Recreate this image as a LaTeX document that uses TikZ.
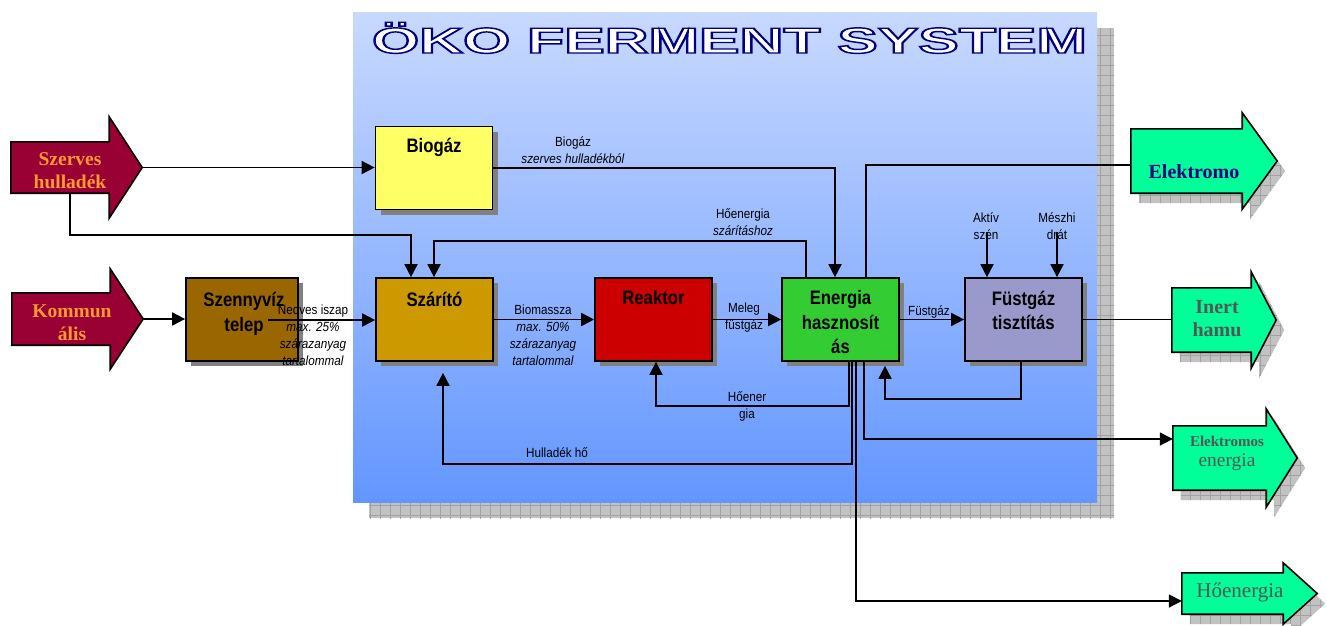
\documentclass[tikz,border=0pt]{standalone}
\usepackage{fontspec}
\setmainfont{Liberation Serif}
\newfontfamily\arialf{Liberation Sans}
\newfontfamily\arialn[FakeStretch=0.86]{Liberation Sans}
\newfontfamily\ariall[FakeStretch=0.88]{Liberation Sans}
\newfontfamily\titlefont[FakeBold=4]{Liberation Sans Bold}
\usetikzlibrary{arrows.meta,calc,shadows,patterns.meta}
\definecolor{panelTop}{HTML}{C8D9FF}
\definecolor{panelBot}{HTML}{6396FF}
\definecolor{shadowgray}{HTML}{C2C2C2}
\definecolor{gridgray}{HTML}{A2A2A2}
\definecolor{crimson}{HTML}{990033}
\definecolor{orangetxt}{HTML}{FF9933}
\definecolor{mint}{HTML}{00FF99}
\definecolor{navytxt}{HTML}{000080}
\definecolor{graytxt}{HTML}{555555}
\definecolor{bioY}{HTML}{FFFF66}
\definecolor{brownB}{HTML}{996600}
\definecolor{goldB}{HTML}{CC9900}
\definecolor{redB}{HTML}{CC0000}
\definecolor{greenB}{HTML}{33CC33}
\definecolor{lilacB}{HTML}{9999CC}
\newcommand{\barrowpath}[6]{% #1 node, #2 head extend, #3 head length, #4 dx, #5 dy, #6 options
  \path[#6] ([xshift=#4pt,yshift=#5pt]#1.north west) -- ([xshift=#4pt,yshift=#5pt]#1.north east)
    -- ([xshift=#4pt,yshift=#5pt+#2pt]#1.north east) -- ([xshift=#4pt+#3pt,yshift=#5pt]#1.east)
    -- ([xshift=#4pt,yshift=#5pt-#2pt]#1.south east) -- ([xshift=#4pt,yshift=#5pt]#1.south east)
    -- ([xshift=#4pt,yshift=#5pt]#1.south west) -- cycle;}
\tikzset{
  proc/.style={draw=black, line width=1.7pt, minimum width=117pt, minimum height=83pt, inner sep=0pt,
    drop shadow={shadow xshift=5pt, shadow yshift=-5pt, fill=gray, opacity=1}},
  boxtxt/.style={font=\arialn\bfseries\fontsize{19.5}{24.5}\selectfont, align=center, inner sep=0pt},
  lbl/.style={font=\ariall\fontsize{13.3}{17}\selectfont, align=center, inner sep=0pt},
  arr/.style={line width=1.8pt, -{Triangle[length=13pt,width=13pt]}},
  ln/.style={line width=1.8pt},
  abody/.style={inner sep=0pt, draw=none},
  leftA/.style={fill=crimson, draw=black, line width=1.6pt},
  rightA/.style={fill=mint, draw=black, line width=1.6pt},
  ashadow/.style={preaction={fill=shadowgray},
    pattern={Lines[angle=0,distance=10pt,line width=0.8pt]}, pattern color=gridgray,
    postaction={pattern={Lines[angle=90,distance=10pt,line width=0.8pt]}, pattern color=gridgray}},
  lefttxt/.style={font=\bfseries\fontsize{19.5}{23}\selectfont, text=orangetxt, align=center, inner sep=0pt},
  righttxt/.style={font=\bfseries\fontsize{20}{23}\selectfont, text=graytxt, align=center, inner sep=0pt}
}
\begin{document}
\begin{tikzpicture}[x=1pt,y=-1pt]
\useasboundingbox (0,0) rectangle (1327,625);
% panel and its shadow
\fill[ashadow] (369,28) rectangle (1114,518);
\shade[top color=panelTop, bottom color=panelBot] (353,12) rectangle (1097,502);
% title: white letters, dark blue outline (stroked text)
\node[anchor=base, inner sep=0pt] (title) at (729.5,53)
  {\resizebox{715pt}{\height}{\color{white}\special{pdf:code 0 0 0.5 RG}\titlefont\fontsize{36}{40}\selectfont ÖKO FERMENT SYSTEM}};

% process boxes
\node[proc, fill=bioY] (bio) at (434,168) {};
\node[proc, fill=brownB, minimum width=112pt] (szv) at (242,319.5) {};
\node[proc, fill=goldB] (szar) at (434.5,319.5) {};
\node[proc, fill=redB] (reak) at (653.5,319.5) {};
\node[proc, fill=greenB] (en) at (840.5,319.5) {};
\node[proc, fill=lilacB] (fg) at (1023.5,319.5) {};
\node[boxtxt] (bio-t) at (434,147) {Biogáz};
\node[boxtxt] (szv-t) at (244,314) {Szennyvíz\\telep};
\node[boxtxt] (szar-t) at (434.5,299) {Szárító};
\node[boxtxt] (reak-t) at (653.5,298) {Reaktor};
\node[boxtxt] (en-t) at (840.5,322.5) {Energia\\hasznosít\\ás};
\node[boxtxt] (fg-t) at (1023.5,310.5) {Füstgáz\\tisztítás};

% left block arrows
\node[abody, minimum width=98pt, minimum height=51pt] (szerves) at (60,167.5) {};
\barrowpath{szerves}{25}{33}{0}{0}{leftA}
\node[lefttxt] (szerves-t) at (70,170.5) {Szerves\\hulladék};
\coordinate (sztip) at ([xshift=33pt]szerves.east);
\node[abody, minimum width=98pt, minimum height=52pt] (kommun) at (61,319) {};
\barrowpath{kommun}{24}{33}{0}{0}{leftA}
\node[lefttxt] (kommun-t) at (72,323) {Kommun\\ális};
\coordinate (kotip) at ([xshift=33pt]kommun.east);

% right block arrows
\node[abody, minimum width=111pt, minimum height=64pt] (elektro) at (1186.5,161) {};
\barrowpath{elektro}{16}{35}{8}{-10}{ashadow}
\barrowpath{elektro}{16}{35}{0}{0}{rightA}
\node[righttxt, text=navytxt] (elektro-t) at (1194,172) {Elektromo};
\node[abody, minimum width=79pt, minimum height=64pt] (inert) at (1211.5,320) {};
\barrowpath{inert}{16}{25}{8}{-10}{ashadow}
\barrowpath{inert}{16}{25}{0}{0}{rightA}
\node[righttxt] (inert-t) at (1217,318.5) {Inert\\hamu};
\node[abody, minimum width=93pt, minimum height=64pt] (elen) at (1219.5,458) {};
\barrowpath{elen}{17}{31}{8}{-10}{ashadow}
\barrowpath{elen}{17}{31}{0}{0}{rightA}
\node[righttxt, font=\fontsize{19.5}{20}\selectfont] (elen-t) at (1227,453)
  {{\fontsize{15}{20}\selectfont\bfseries Elektromos}\\energia};
\node[abody, minimum width=101pt, minimum height=41pt] (hoen) at (1232.5,593.5) {};
\barrowpath{hoen}{10}{34}{8}{-10}{ashadow}
\barrowpath{hoen}{10}{34}{0}{0}{rightA}
\node[righttxt, font=\fontsize{21}{24}\selectfont] (hoen-t) at (1240,592) {Hőenergia};

% connectors
\draw[arr] (sztip) -- (bio.west |- sztip);
\coordinate (k1) at (70,235); \coordinate (k2) at (411,235);
\draw[arr] (szerves.south -| k1) -- (k1) -- (k2) -- (k2 |- szar.north);
\coordinate (k3) at (835,168);
\draw[arr] (bio.east) -- (k3) -- (k3 |- en.north);
\coordinate (k4) at (806,241); \coordinate (k5) at (434,241);
\draw[arr] (en.north -| k4) -- (k4) -- (k5) -- (k5 |- szar.north);
\coordinate (k6) at (866,165);
\draw[ln] (en.north -| k6) -- (k6) -- (k6 -| elektro.west);
\draw[arr] (kotip) -- (szv.west |- kotip);
\coordinate (k7) at (268,320);
\draw[arr] (k7) -- (k7 -| szar.west);
\draw[arr] (szar.east) -- (reak.west);
\draw[arr] (reak.east) -- (en.west);
\draw[arr] (en.east) -- (fg.west);
\draw[ln] (fg.east) -- (fg.east -| inert.west);
\coordinate (k8) at (987,232); \coordinate (k9) at (1057,232);
\draw[arr] (k8) -- (k8 |- fg.north);
\draw[arr] (k9) -- (k9 |- fg.north);
\coordinate (k10) at (1021,399); \coordinate (k11) at (885,399);
\draw[arr, shorten >=4pt] (fg.south -| k10) -- (k10) -- (k11) -- (k11 |- en.south);
\coordinate (k12) at (849,406); \coordinate (k13) at (656,406);
\draw[arr] (en.south -| k12) -- (k12) -- (k13) -- (k13 |- reak.south);
\coordinate (k14) at (852,464); \coordinate (k15) at (443,464);
\draw[arr, shorten >=11pt] (en.south -| k14) -- (k14) -- (k15) -- (k15 |- szar.south);
\coordinate (k16) at (856,601);
\draw[arr] (en.south -| k16) -- (k16) -- (k16 -| hoen.west);
\coordinate (k17) at (864,439);
\draw[arr] (en.south -| k17) -- (k17) -- (k17 -| elen.west);

% connector labels
\node[lbl] (l-bio) at (573,150) {Biogáz\\\textit{szerves hulladékból}};
\node[lbl] (l-hoe1) at (743,222) {Hőenergia\\\textit{szárításhoz}};
\node[lbl] (l-nedv) at (313,335) {Nedves iszap\\\textit{max. 25\%}\\\textit{szárazanyag}\\\textit{tartalommal}};
\node[lbl] (l-bioma) at (543,335) {Biomassza\\\textit{max. 50\%}\\\textit{szárazanyag}\\\textit{tartalommal}};
\node[lbl] (l-meleg) at (744,317.5) {Meleg\\füstgáz};
\node[lbl] (l-fg) at (929,312) {Füstgáz};
\node[lbl] (l-akt) at (986,226.5) {Aktív\\szén};
\node[lbl] (l-mesz) at (1057,226.5) {Mészhi\\drát};
\node[lbl] (l-hoe2) at (747,406) {Hőener\\gia};
\node[lbl] (l-hull) at (557,453) {Hulladék hő};
\end{tikzpicture}
\end{document}
